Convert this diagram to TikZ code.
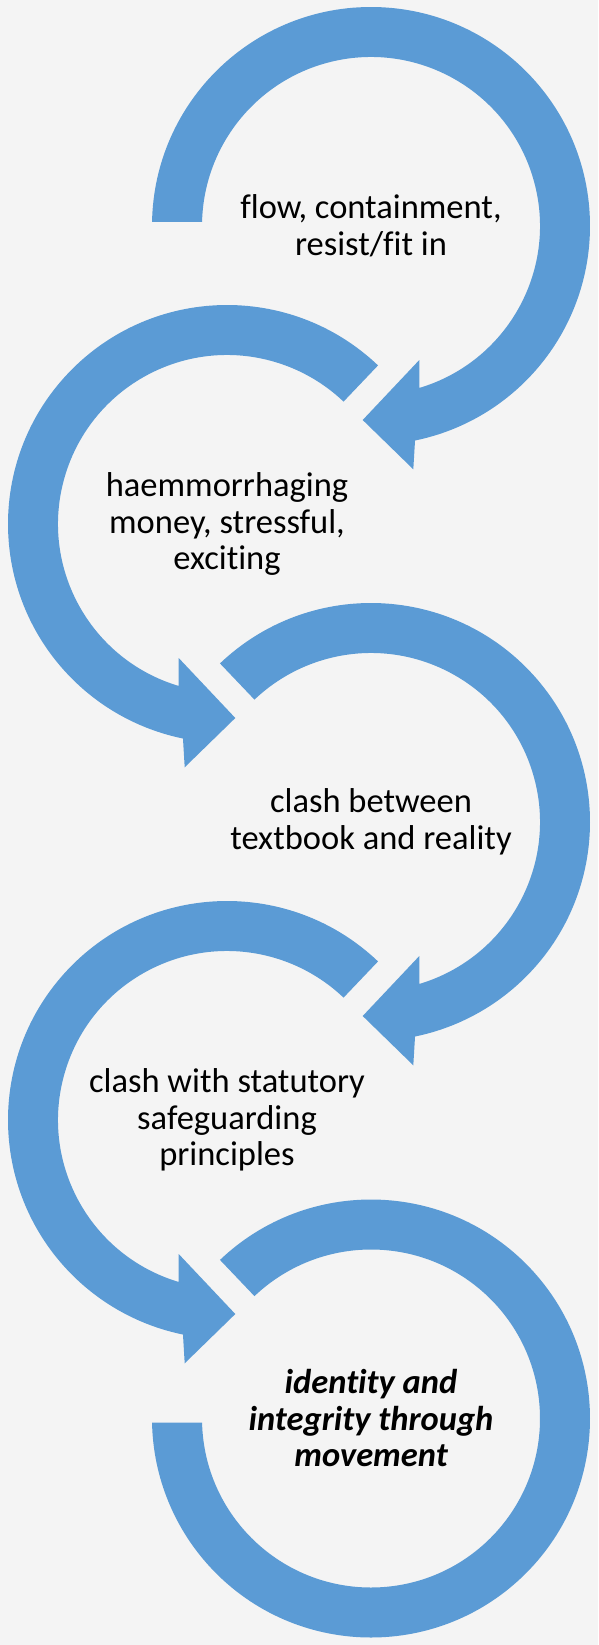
\documentclass[tikz,border=0pt]{standalone}
\usepackage{fontspec}
\setmainfont{Carlito}[Ligatures=NoCommon]
\usepackage{xcolor}
\definecolor{ringBlue}{RGB}{91, 155, 213}
\definecolor{paperGray}{RGB}{244, 244, 244}

\begin{document}
\begin{tikzpicture}[x=1pt, y=1pt,
    loopring/.style={fill=ringBlue, draw=none},
    looptext/.style={align=center, text=black, font=\fontsize{34.5}{36.5}\selectfont}]
    \useasboundingbox (0,0) rectangle (598,-1645);
    \fill[paperGray] (0,0) rectangle (598,-1645);

    \coordinate (c1) at (371,-226);
    \coordinate (c2) at (227,-524);
    \coordinate (c3) at (371,-822);
    \coordinate (c4) at (227,-1120);
    \coordinate (c5) at (371,-1418.5);

    % first loop, flat end on the left
    \fill[loopring, shift={(c1)}] (178.95:219pt) arc[start angle=178.95, end angle=-78.4, radius=219pt]
        -- (42.3,-243.3) -- (-8.3,-194) -- (48.3,-134)
        -- (-73.4:169pt) arc[start angle=-73.4, end angle=178.64, radius=169pt] -- cycle;
    % middle loops, the left ones mirrored
    \fill[loopring, shift={(c2)}, xscale=-1] (133.6:219pt) arc[start angle=133.6, end angle=-78.4, radius=219pt]
        -- (42.3,-243.3) -- (-8.3,-194) -- (48.3,-134)
        -- (-73.4:169pt) arc[start angle=-73.4, end angle=133.6, radius=169pt] -- cycle;
    \fill[loopring, shift={(c3)}] (133.6:219pt) arc[start angle=133.6, end angle=-78.4, radius=219pt]
        -- (42.3,-243.3) -- (-8.3,-194) -- (48.3,-134)
        -- (-73.4:169pt) arc[start angle=-73.4, end angle=133.6, radius=169pt] -- cycle;
    \fill[loopring, shift={(c4)}, xscale=-1] (133.6:219pt) arc[start angle=133.6, end angle=-78.4, radius=219pt]
        -- (42.3,-243.3) -- (-8.3,-194) -- (48.3,-134)
        -- (-73.4:169pt) arc[start angle=-73.4, end angle=133.6, radius=169pt] -- cycle;
    % last loop, no head
    \fill[loopring, shift={(c5)}] (133.6:219pt) arc[start angle=133.6, end angle=-178.95, radius=219pt]
        -- (-178.64:169pt) arc[start angle=-178.64, end angle=133.6, radius=169pt] -- cycle;

    \node[looptext] (t1) at (c1) {flow, containment,\\resist/fit in};
    \node[looptext] (t2) at (c2) {haemmorrhaging\\money, stressful,\\exciting};
    \node[looptext] (t3) at (c3) {clash between\\textbook and reality};
    \node[looptext] (t4) at (c4) {clash with statutory\\safeguarding\\principles};
    \node[looptext, font=\fontsize{34.5}{36.5}\selectfont\bfseries\itshape] (t5) at (c5) {identity and\\integrity through\\movement};
\end{tikzpicture}
\end{document}
